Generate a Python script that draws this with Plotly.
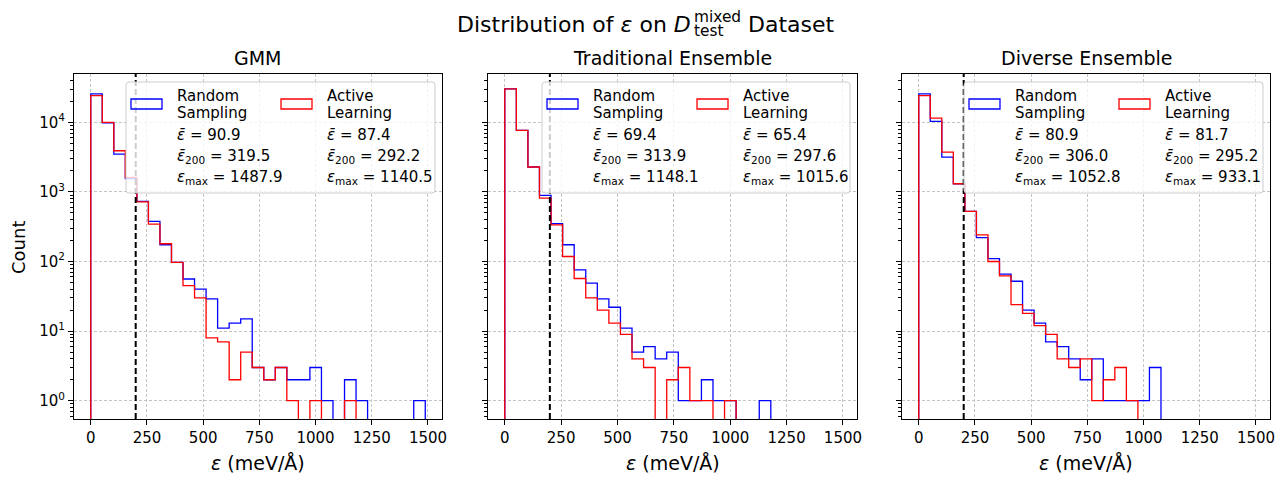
import numpy as np
import plotly.graph_objects as go

# ---------------- data ----------------
BIN_MIN = 0.0
BIN_MAX = 1487.9
N_BINS = 29
THRESHOLD = 200

panel_titles = ["GMM", "Traditional Ensemble", "Diverse Ensemble"]
series_names = [["Random", "Sampling"], ["Active", "Learning"]]

gmm_random = [25600, 9800, 3500, 1550, 730, 376, 174, 97, 56, 40, 29, 11, 13, 15, 3, 2, 3, 2, 2, 3, 1, 0, 2, 1, 0, 0, 0, 0, 1]
gmm_active = [24200, 10000, 3900, 1620, 720, 345, 180, 97, 45, 30, 8, 7, 2, 5, 3, 2, 3, 1, 0, 1, 0, 0, 1, 0, 0, 0, 0, 0, 0]
trad_random = [30200, 7670, 2280, 890, 350, 174, 76, 49, 29, 22, 11, 5, 6, 4, 5, 1, 1, 2, 1, 1, 0, 0, 1, 0, 0, 0, 0, 0, 0]
trad_active = [30200, 7670, 2280, 815, 337, 118, 57, 30, 20, 13, 9, 4, 3, 0, 2, 3, 1, 1, 0, 1, 0, 0, 0, 0, 0, 0, 0, 0, 0]
div_random = [25600, 10300, 3170, 1310, 525, 221, 110, 66, 52, 20, 13, 7, 6, 4, 2, 4, 1, 1, 1, 1, 3, 0, 0, 0, 0, 0, 0, 0, 0]
div_active = [24200, 11500, 3740, 1310, 525, 242, 100, 62, 24, 18, 12, 9, 4, 3, 4, 1, 2, 3, 1, 0, 0, 0, 0, 0, 0, 0, 0, 0, 0]

# stats: (mean, mean above 200, max)
gmm_stats = [("90.9", "319.5", "1487.9"), ("87.4", "292.2", "1140.5")]
trad_stats = [("69.4", "313.9", "1148.1"), ("65.4", "297.6", "1015.6")]
div_stats = [("80.9", "306.0", "1052.8"), ("81.7", "295.2", "933.1")]

x_tick_vals = [0, 250, 500, 750, 1000, 1250, 1500]
y_tick_vals = [1, 10, 100, 1000, 10000]
y_tick_text = ["10<sup>0</sup>", "10<sup>1</sup>", "10<sup>2</sup>", "10<sup>3</sup>", "10<sup>4</sup>"]

panels = [
    (gmm_random, gmm_active, gmm_stats),
    (trad_random, trad_active, trad_stats),
    (div_random, div_active, div_stats),
]
colors = ["#0000ff", "#ff0000"]

# ---------------- layout geometry ----------------
W, H = 1287, 484
ML, MR, MT, MB = 74, 17, 74, 65
PW, PH = W - ML - MR, H - MT - MB
axes_px = [(74, 442), (488, 857), (902, 1270)]
legend_w = [309, 308, 299]
FONT = "DejaVu Sans"


def fx(px):
    return (px - ML) / PW


def fy(py):
    return 1 - (py - MT) / PH


edges = np.linspace(BIN_MIN, BIN_MAX, N_BINS + 1)
FLOOR = 1e-3


def step_xy(counts):
    xs, ys = [edges[0]], [FLOOR]
    for i, c in enumerate(counts):
        v = c if c > 0 else FLOOR
        xs += [edges[i], edges[i + 1]]
        ys += [v, v]
    xs.append(edges[-1])
    ys.append(FLOOR)
    return xs, ys


pad = 0.05 * (edges[-1] - edges[0])
x_range = [edges[0] - pad, edges[-1] + pad]
y_range = [-0.263, 4.694]
minor_vals = [m * 10 ** k for k in range(-1, 5) for m in range(2, 10)]

fig = go.Figure()
shapes = []
annotations = []

for p, (rnd, act, stats) in enumerate(panels):
    xa = "x" if p == 0 else f"x{p+1}"
    ya = "y" if p == 0 else f"y{p+1}"
    for s, counts in enumerate([rnd, act]):
        xs, ys = step_xy(counts)
        fig.add_trace(go.Scatter(x=xs, y=ys, mode="lines",
                                 line=dict(color=colors[s], width=1.3),
                                 xaxis=xa, yaxis=ya, showlegend=False,
                                 hoverinfo="skip"))
    # threshold line
    shapes.append(dict(type="line", xref=xa, yref=f"{ya} domain", x0=THRESHOLD, x1=THRESHOLD,
                       y0=0, y1=1, line=dict(color="black", width=2, dash="6px,3px"), layer="above"))

    left, right = axes_px[p]
    dom = [fx(left), fx(right)]
    axis_common = dict(showline=True, mirror=True, linecolor="black", linewidth=1,
                       ticks="outside", ticklen=5, tickwidth=1.1, tickcolor="black",
                       showgrid=True, gridcolor="#c4c4c4", griddash="3px,2px", gridwidth=0.6,
                       zeroline=False, automargin=False,
                       tickfont=dict(family=FONT, size=15, color="black"))
    xkey = "xaxis" if p == 0 else f"xaxis{p+1}"
    ykey = "yaxis" if p == 0 else f"yaxis{p+1}"
    fig.layout[xkey] = dict(domain=dom, anchor=ya, range=x_range, tickmode="array",
                            tickvals=x_tick_vals, ticktext=[str(v) for v in x_tick_vals],
                            **axis_common)
    fig.layout[ykey] = dict(domain=[0, 1], anchor=xa, type="log", range=y_range, tickmode="array",
                            tickvals=y_tick_vals, ticktext=y_tick_text, showticklabels=(p == 0),
                            minor=dict(tickvals=minor_vals, ticks="outside", ticklen=2.8,
                                       tickwidth=0.8, tickcolor="black", showgrid=False),
                            **axis_common)

    cx = (dom[0] + dom[1]) / 2
    annotations.append(dict(text=panel_titles[p], x=cx, y=1, xref="paper", yref="paper",
                            xanchor="center", yanchor="bottom", yshift=3, showarrow=False,
                            font=dict(family=FONT, size=19, color="black")))
    annotations.append(dict(text="<i>ε</i> (meV/Å)", x=cx, y=0, xref="paper", yref="paper",
                            xanchor="center", yanchor="top", yshift=-31, showarrow=False,
                            font=dict(family=FONT, size=19, color="black")))

    # legend
    L = right - 7 - legend_w[p]
    R = L + legend_w[p]
    T, B = 82, 193
    r = 3
    path = (f"M {fx(L + r)},{fy(T)} L {fx(R - r)},{fy(T)} Q {fx(R)},{fy(T)} {fx(R)},{fy(T + r)} "
            f"L {fx(R)},{fy(B - r)} Q {fx(R)},{fy(B)} {fx(R - r)},{fy(B)} "
            f"L {fx(L + r)},{fy(B)} Q {fx(L)},{fy(B)} {fx(L)},{fy(B - r)} "
            f"L {fx(L)},{fy(T + r)} Q {fx(L)},{fy(T)} {fx(L + r)},{fy(T)} Z")
    shapes.append(dict(type="path", xref="paper", yref="paper", path=path,
                       fillcolor="rgba(255,255,255,0.8)", line=dict(color="#cccccc", width=1),
                       layer="above"))
    for s in range(2):
        px0 = L + (5 if s == 0 else 155)
        shapes.append(dict(type="rect", xref="paper", yref="paper",
                           x0=fx(px0), x1=fx(px0 + 31), y0=fy(109), y1=fy(99),
                           line=dict(color=colors[s], width=1.3), fillcolor="rgba(0,0,0,0)",
                           layer="above"))
        tx = L + (49 if s == 0 else 199)
        mean, mean200, mx = stats[s]
        lines = [series_names[s][0], series_names[s][1],
                 f"<i>ε̄</i> = {mean}",
                 f"<i>ε̄</i><sub>200</sub> = {mean200}",
                 f"<i>ε</i><sub>max</sub> = {mx}"]
        ys_px = [95.5, 113, 134.5, 156, 177]
        for t, yy in zip(lines, ys_px):
            annotations.append(dict(text=t, x=fx(tx), y=fy(yy), xref="paper", yref="paper",
                                    xanchor="left", yanchor="middle", showarrow=False,
                                    font=dict(family=FONT, size=15, color="black")))

# y label
annotations.append(dict(text="Count", x=fx(18), y=fy(248), xref="paper", yref="paper",
                        xanchor="center", yanchor="middle", textangle=-90, showarrow=False,
                        font=dict(family=FONT, size=18, color="black")))

# suptitle pieces (stacked sub/superscript)
annotations.append(dict(text="Distribution of <i>ε</i> on <i>D</i>", x=fx(455), y=fy(24),
                        xref="paper", yref="paper", xanchor="left", yanchor="middle",
                        showarrow=False, font=dict(family=FONT, size=22, color="black")))
annotations.append(dict(text="mixed", x=fx(692), y=fy(17), xref="paper", yref="paper",
                        xanchor="left", yanchor="middle", showarrow=False,
                        font=dict(family=FONT, size=15.4, color="black")))
annotations.append(dict(text="test", x=fx(692), y=fy(31), xref="paper", yref="paper",
                        xanchor="left", yanchor="middle", showarrow=False,
                        font=dict(family=FONT, size=15.4, color="black")))
annotations.append(dict(text="Dataset", x=fx(746), y=fy(24), xref="paper", yref="paper",
                        xanchor="left", yanchor="middle", showarrow=False,
                        font=dict(family=FONT, size=22, color="black")))

fig.update_layout(width=W, height=H, margin=dict(l=ML, r=MR, t=MT, b=MB),
                  paper_bgcolor="white", plot_bgcolor="white",
                  shapes=shapes, annotations=annotations, showlegend=False,
                  font=dict(family=FONT, color="black"))

fig.write_html("out.html", config={"displayModeBar": False},
               post_script="document.body.style.margin='0px';")
